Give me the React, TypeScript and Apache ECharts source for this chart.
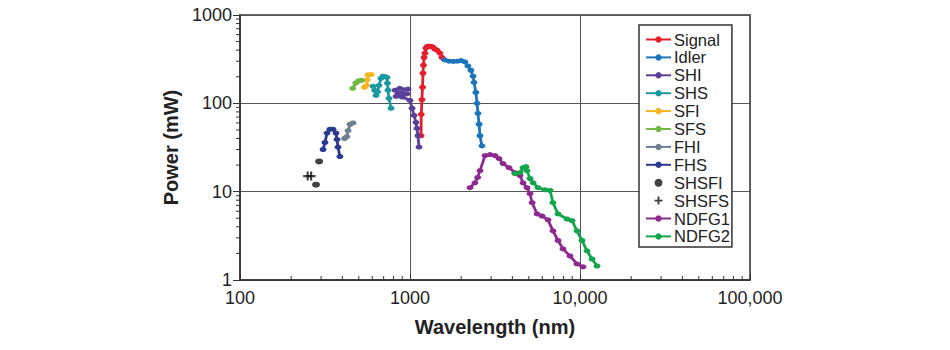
import React, { useEffect, useRef } from "react";
import * as echarts from "echarts";

// ---- data (wavelength nm, power mW) ----
const signal = [[1161,43],[1165,75],[1175,110],[1185,152],[1192,219],[1200,270],[1210,330],[1225,370],[1240,422],[1265,440],[1294,444],[1330,440],[1366,433],[1403,410],[1442,400],[1500,370],[1542,330]];
const idler = [[1600,310],[1700,300],[1800,298],[1900,300],[2000,305],[2100,295],[2190,265],[2280,237],[2350,203],[2380,173],[2440,133],[2480,100],[2510,77],[2550,58],[2580,43],[2650,33]];
const shi = [[817,141],[870,148],[973,145],[850,130],[960,128],[828,120],[900,118],[1000,108],[1028,88],[1056,73],[1084,61],[1099,52],[1114,43],[1129,32]];
const shs = [[606,156],[620,140],[631,123],[645,135],[657,160],[675,192],[693,203],[715,200],[732,197],[737,169],[742,141],[752,114],[773,88]];
const sfi = [[540,152],[555,160],[560,185],[565,210],[590,212]];
const sfs = [[460,148],[480,170],[500,180],[520,182]];
const fhi = [[412,40],[425,42],[432,49],[444,58],[462,60]];
const fhs = [[308,30],[316,36],[325,46],[338,51],[352,51],[367,46],[372,39],[377,32],[387,25]];
const shsfi = [[292,22],[280,12]];
const shsfs = [[250,15],[262,15]];
const ndfg1 = [[2254,11.1],[2410,12.6],[2500,14.5],[2581,17.3],[2762,25.6],[2957,26.3],[3162,25.6],[3340,23.7],[3525,20.8],[3822,18.7],[4146,16.4],[4437,15.2],[4624,12.6],[4877,11.1],[5082,9.5],[5225,7.5],[5590,5.6],[5977,5.3],[6483,4.8],[6933,3.6],[7425,2.8],[7943,2.25],[8733,1.87],[9595,1.52],[10414,1.41]];
const ndfg2 = [[4146,16.0],[4437,16.4],[4624,18.7],[4808,19.2],[4877,17.3],[5082,14.1],[5297,12.6],[5664,11.1],[6223,10.5],[6667,10.3],[6933,7.5],[7425,5.6],[8395,4.9],[8977,4.7],[9595,3.6],[10275,2.8],[10993,2.14],[11770,1.73],[12598,1.44]];

const xMinorTicks = [200,300,400,500,600,700,800,900,2000,3000,4000,5000,6000,7000,8000,9000,20000,30000,40000,50000,60000,70000,80000,90000];
const yMinorTicks = [2,3,4,5,6,7,8,9,20,30,40,50,60,70,80,90,200,300,400,500,600,700,800,900];

const lineSeries = [
  { name: "Signal", data: signal, color: "#e41e2b" },
  { name: "Idler", data: idler, color: "#1b75bb" },
  { name: "SHI", data: shi, color: "#5a3f99" },
  { name: "SHS", data: shs, color: "#1a9a9f" },
  { name: "SFI", data: sfi, color: "#f7b520" },
  { name: "SFS", data: sfs, color: "#72b844" },
  { name: "FHI", data: fhi, color: "#6e7f8d" },
  { name: "FHS", data: fhs, color: "#2b3990" },
];
const lineSeries2 = [
  { name: "NDFG1", data: ndfg1, color: "#8d2a90" },
  { name: "NDFG2", data: ndfg2, color: "#13a54b" },
];
const legendNames = ["Signal","Idler","SHI","SHS","SFI","SFS","FHI","FHS","SHSFI","SHSFS","NDFG1","NDFG2"];

const FONT = "'Liberation Sans', Arial, Helvetica, sans-serif";
const PLUS = "path://M0,3.8H10V6.2H0Z M3.8,0H6.2V10H3.8Z";

function mkLine(s: { name: string; data: number[][]; color: string }) {
  return {
    type: "line",
    name: s.name,
    data: s.data,
    symbol: "circle",
    symbolSize: [7, 5],
    showSymbol: true,
    lineStyle: { width: 2.8, color: s.color },
    itemStyle: { color: s.color },
    color: s.color,
    emphasis: { disabled: true },
    z: 3,
  };
}

export default function App() {
  const ref = useRef<HTMLDivElement>(null);
  useEffect(() => {
    if (!ref.current) return;
    const chart = echarts.init(ref.current, null, { renderer: "svg" });
    const series: any[] = [
      ...lineSeries.map(mkLine),
      {
        type: "scatter", name: "SHSFI", data: shsfi, symbol: "circle", symbolSize: [8, 6],
        itemStyle: { color: "#111" }, color: "#111", z: 3,
      },
      {
        type: "scatter", name: "SHSFS", data: shsfs, symbol: PLUS, symbolSize: 9,
        itemStyle: { color: "#111" }, color: "#111", z: 3,
      },
      ...lineSeries2.map(mkLine),
      {
        type: "custom", name: "xminor", silent: true, clip: false,
        data: xMinorTicks.map((v) => [v, 1]),
        renderItem: (_p: any, api: any) => {
          const p = api.coord([api.value(0), 1]);
          return { type: "line", shape: { x1: p[0], y1: p[1], x2: p[0], y2: p[1] - 4 }, style: { stroke: "#333", lineWidth: 1 } };
        },
        z: 1,
      },
      {
        type: "custom", name: "yminor", silent: true, clip: false,
        data: yMinorTicks.map((v) => [100, v]),
        renderItem: (_p: any, api: any) => {
          const p = api.coord([100, api.value(1)]);
          return { type: "line", shape: { x1: p[0] - 4, y1: p[1], x2: p[0], y2: p[1] }, style: { stroke: "#333", lineWidth: 1 } };
        },
        z: 1,
      },
    ];
    chart.setOption({
      animation: false,
      backgroundColor: "#fff",
      textStyle: { fontFamily: FONT },
      grid: { left: 240, right: 200, top: 15, bottom: 70, show: true, borderColor: "#333", borderWidth: 1.5, backgroundColor: "transparent" },
      legend: {
        data: legendNames,
        orient: "vertical",
        left: 639,
        top: 25,
        itemWidth: 25,
        itemHeight: 8,
        itemGap: 0.9,
        padding: [6, 2, 2, 6],
        borderColor: "#333",
        borderWidth: 1.5,
        backgroundColor: "#fff",
        textStyle: { fontSize: 16.5, color: "#222", fontFamily: FONT, padding: [0, 0, 0, -2] },
        selectedMode: false,
      },
      xAxis: {
        type: "log", logBase: 10, min: 100, max: 100000,
        name: "Wavelength (nm)", nameLocation: "middle", nameGap: 37,
        nameTextStyle: { fontSize: 20, fontWeight: "bold", color: "#222", fontFamily: FONT },
        axisLine: { lineStyle: { color: "#333", width: 1.5 } },
        axisTick: { inside: true, length: 6, lineStyle: { color: "#333" } },
        axisLabel: {
          fontSize: 18, color: "#222", margin: 9, fontFamily: FONT,
          formatter: (v: number) => { const r = Math.round(v); return r >= 10000 ? r.toLocaleString("en-US") : String(r); },
        },
        splitLine: { show: true, lineStyle: { color: "#555", width: 1 } },
      },
      yAxis: {
        type: "log", logBase: 10, min: 1, max: 1000,
        name: "Power (mW)", nameLocation: "middle", nameGap: 57,
        nameTextStyle: { fontSize: 20, fontWeight: "bold", color: "#222", fontFamily: FONT },
        axisLine: { lineStyle: { color: "#333", width: 1.5 } },
        axisTick: { inside: false, length: 7, lineStyle: { color: "#333" } },
        axisLabel: {
          fontSize: 18, color: "#222", margin: 8, fontFamily: FONT,
          formatter: (v: number) => String(Math.round(v)),
        },
        splitLine: { show: true, lineStyle: { color: "#555", width: 1 } },
      },
      series,
    });
    return () => chart.dispose();
  }, []);
  return <div ref={ref} style={{ position: "fixed", left: 0, top: 0, width: 950, height: 350 }} />;
}
